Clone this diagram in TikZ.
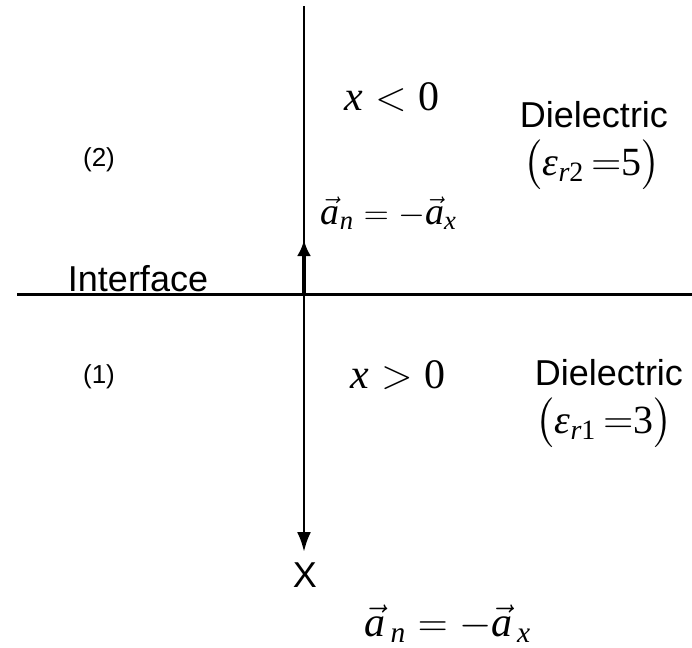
\documentclass[tikz,border=0pt]{standalone}
\usepackage{amsmath}
\usepackage{fontspec}
\setmainfont{Liberation Sans}
\newfontfamily\tms{Liberation Serif}
\newcommand{\tvar}[1]{\text{\tms\itshape #1}}
\newcommand{\tnum}[1]{\text{\tms #1}}
\usetikzlibrary{arrows.meta,positioning}

\begin{document}
\begin{tikzpicture}[
  x=0.5pt,y=-0.5pt,
  lbl/.style={inner sep=0pt,font=\fontsize{18}{21}\selectfont},
  reg/.style={inner sep=0pt,font=\fontsize{13}{15}\selectfont},
  eq/.style={inner sep=0pt,font=\fontsize{21}{24}\selectfont},
  perm/.style={inner sep=0pt,font=\fontsize{20}{23}\selectfont},
  axis/.style={line width=1.4pt},
  arr/.style={-{Latex[length=10pt,width=7pt]}},
  nrmarr/.style={line width=2.2pt,-{Latex[length=8pt,width=7pt]}}
]
  \useasboundingbox (0,0) rectangle (692,648);

  % axis and interface
  \coordinate (top) at (304,6);
  \coordinate (xend) at (304,552);
  \coordinate (o) at (304,294);
  \coordinate (nrm) at (304,240);
  \coordinate (west) at (17,294);
  \coordinate (east) at (692,294);

  \draw[axis,arr] (top) -- (xend);
  \draw[line width=1.5pt] (west) -- (east);
  \draw[nrmarr] (o) -- (nrm);

  % region 2 (top)
  \node[reg] (r2) at (99,160) {(2)};
  \node[eq] (lt) at (392,97) {$\tvar{x}<\tnum{0}$};
  \node[eq,font=\fontsize{19}{22}\selectfont] (an2) at (389,213)
    {$\vec{\tvar{a}}_{\tvar{n}}=-\vec{\tvar{a}}_{\tvar{x}}$};
  \node[lbl] (d2) at (594,115) {Dielectric};
  \node[perm] (e2) at (592,165) {$\bigl(\tvar{ε}_{\tvar{r}\tnum{2}}\,{=}\tnum{5}\bigr)$};
  \node[lbl] (intf) at (138,279) {Interface};

  % region 1 (bottom)
  \node[reg] (r1) at (99,377) {(1)};
  \node[eq] (gt) at (398,375) {$\tvar{x}>\tnum{0}$};
  \node[lbl] (d1) at (609,373) {Dielectric};
  \node[perm] (e1) at (604,423) {$\bigl(\tvar{ε}_{\tvar{r}\tnum{1}}\,{=}\tnum{3}\bigr)$};

  \node[lbl] (xlbl) at (305,575) {X};
  \node[eq] (an1) at (448,624)
    {$\vec{\tvar{a}}_{\,\tvar{n}}=-\vec{\tvar{a}}_{\,\tvar{x}}$};
\end{tikzpicture}
\end{document}
